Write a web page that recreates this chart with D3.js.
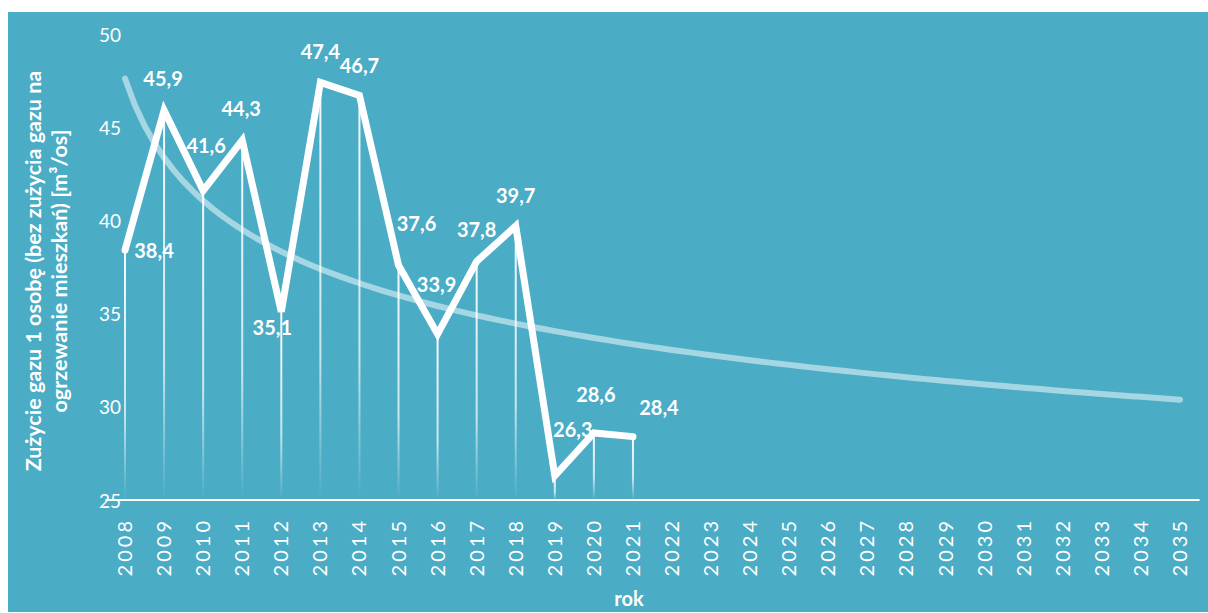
<!DOCTYPE html>
<html>
<head>
  <meta charset="utf-8">
  <title>Zużycie gazu</title>
  <style>
    html, body { margin: 0; padding: 0; background: #fff; }
    svg { display: block; }
    text { font-family: Lato, "Open Sans", sans-serif; fill: #fff; }
  </style>
</head>
<body>
  <svg id="chart"></svg>

  <script src="https://d3js.org/d3.v7.min.js"></script>
  <script>
    // dane
    const years = d3.range(2008, 2036);
    const dataYears = [2008, 2009, 2010, 2011, 2012, 2013, 2014, 2015, 2016, 2017, 2018, 2019, 2020, 2021];
    const values = [38.4, 45.9, 41.6, 44.3, 35.1, 47.4, 46.7, 37.6, 33.9, 37.8, 39.7, 26.3, 28.6, 28.4];
    const yTicks = [25, 30, 35, 40, 45, 50];

    // przesunięcia etykiet względem punktu [dx, dy]
    const labelOffsets = [
      [29, 0], [-1, -32], [3, -46], [-1, -32], [-9, 15], [0, -31], [0, -31],
      [18, -42], [-1, -50], [0, -32], [0, -31], [18, -47], [2, -39], [26, -30]
    ];

    const width = 1208;
    const height = 613;

    const svg = d3.select("#chart")
      .attr("width", width)
      .attr("height", height);

    // tło
    svg.append("rect")
      .attr("x", 8).attr("y", 12)
      .attr("width", width - 8).attr("height", 600)
      .attr("fill", "#4BACC6");

    const x = d3.scalePoint().domain(years).range([125, 1180]);
    const y = d3.scaleLinear().domain([25, 50]).range([500, 34]);
    const step = x.step();

    // gradient linii pionowych
    const defs = svg.append("defs");
    const grad = defs.append("linearGradient")
      .attr("id", "dropGrad")
      .attr("x1", 0).attr("y1", 0).attr("x2", 0).attr("y2", 1);
    grad.append("stop").attr("offset", "0%").attr("stop-color", "#fff").attr("stop-opacity", 0.95);
    grad.append("stop").attr("offset", "65%").attr("stop-color", "#fff").attr("stop-opacity", 0.7);
    grad.append("stop").attr("offset", "100%").attr("stop-color", "#fff").attr("stop-opacity", 0);

    const points = dataYears.map((yr, i) => ({ year: yr, value: values[i] }));

    // linie spadku
    svg.selectAll(".drop")
      .data(points)
      .enter().append("rect")
      .attr("class", "drop")
      .attr("x", d => x(d.year) - 1)
      .attr("y", d => y(d.value))
      .attr("width", 2)
      .attr("height", d => y(25) - y(d.value))
      .attr("fill", "url(#dropGrad)");

    // linia trendu (potęgowa, dopasowana do danych)
    const lx = points.map((d, i) => Math.log(i + 1));
    const ly = points.map(d => Math.log(d.value));
    const mx = d3.mean(lx), my = d3.mean(ly);
    const k = d3.sum(lx, (v, i) => (v - mx) * (ly[i] - my)) / d3.sum(lx, v => (v - mx) * (v - mx));
    const c = Math.exp(my - k * mx);
    const xi = d3.scaleLinear().domain([1, years.length]).range([x(years[0]), x(years[years.length - 1])]);
    const trend = d3.range(1, years.length + 0.001, 0.25).map(t => [xi(t), y(c * Math.pow(t, k))]);

    svg.append("path")
      .attr("d", d3.line()(trend))
      .attr("fill", "none")
      .attr("stroke", "#fff")
      .attr("stroke-opacity", 0.5)
      .attr("stroke-width", 6)
      .attr("stroke-linecap", "round");

    // oś X
    svg.append("line")
      .attr("x1", x(2008) - step / 2).attr("x2", x(2035) + step / 2)
      .attr("y1", y(25)).attr("y2", y(25))
      .attr("stroke", "#fff").attr("stroke-width", 2);

    // linia główna
    const line = d3.line()
      .x(d => x(d.year))
      .y(d => y(d.value));

    svg.append("path")
      .datum(points)
      .attr("d", line)
      .attr("fill", "none")
      .attr("stroke", "#fff")
      .attr("stroke-width", 7)
      .attr("stroke-linejoin", "miter")
      .attr("stroke-linecap", "round");

    // etykiety danych
    svg.selectAll(".lbl")
      .data(points)
      .enter().append("text")
      .attr("class", "lbl")
      .attr("x", (d, i) => x(d.year) + labelOffsets[i][0])
      .attr("y", (d, i) => y(d.value) + labelOffsets[i][1])
      .attr("text-anchor", "middle")
      .attr("dominant-baseline", "central")
      .style("font-size", "20px")
      .style("font-weight", "bold")
      .text(d => String(d.value).replace(".", ","));

    // etykiety osi Y
    svg.selectAll(".ytick")
      .data(yTicks)
      .enter().append("text")
      .attr("class", "ytick")
      .attr("x", 121)
      .attr("y", d => y(d))
      .attr("text-anchor", "end")
      .attr("dominant-baseline", "central")
      .style("font-size", "19px")
      .text(d => d);

    // etykiety osi X
    svg.selectAll(".xtick")
      .data(years)
      .enter().append("text")
      .attr("class", "xtick")
      .attr("transform", d => `translate(${x(d) + 7},518) rotate(-90)`)
      .attr("text-anchor", "end")
      .style("font-size", "20px")
      .style("letter-spacing", "3px")
      .text(d => d);

    // tytuły osi
    svg.append("text")
      .attr("x", 629).attr("y", 598)
      .attr("text-anchor", "middle")
      .attr("dominant-baseline", "central")
      .style("font-size", "20px")
      .style("font-weight", "bold")
      .text("rok");

    const yTitle = svg.append("text")
      .attr("transform", "translate(41,271) rotate(-90)")
      .attr("text-anchor", "middle")
      .style("font-size", "21.5px")
      .style("font-weight", "bold");
    yTitle.append("tspan").attr("x", 0).attr("y", 0)
      .text("Zużycie gazu 1 osobę (bez zużycia gazu na");
    yTitle.append("tspan").attr("x", 0).attr("dy", 26)
      .text("ogrzewanie mieszkań) [m³/os]");
  </script>
</body>
</html>
